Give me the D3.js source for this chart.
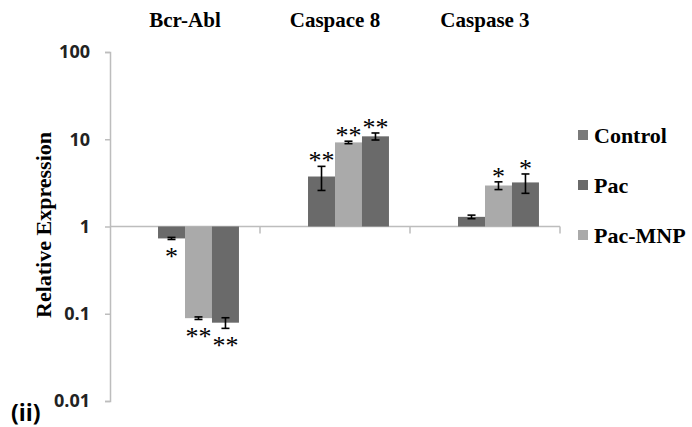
<html>
<script src='https://d3js.org/d3.v7.min.js'></script>
<style>
    body { margin: 0; background: #fff; }
</style>

<body onload='init()'>
    <svg width=692 height=427></svg>
    <script>
        // data
        let categories = ['Bcr-Abl', 'Caspace 8', 'Caspase 3'];
        let series = ['Control', 'Pac', 'Pac-MNP', 'Series 4'];
        let legendSeries = ['Control', 'Pac', 'Pac-MNP'];
        let colors = ['#7a7a7a', '#6a6a6a', '#aaaaaa', '#6a6a6a'];

        let controlVals = [1, 1, 1];
        let controlErr = [0, 0, 0];
        let controlSig = ['', '', ''];
        let pacVals = [0.73, 3.74, 1.29];
        let pacErr = [0.02, 1.15, 0.06];
        let pacSig = ['*', '**', ''];
        let mnpVals = [0.089, 9.2, 2.95];
        let mnpErr = [0.003, 0.3, 0.3];
        let mnpSig = ['**', '**', '*'];
        let s4Vals = [0.079, 10.8, 3.2];
        let s4Err = [0.011, 1.0, 0.8];
        let s4Sig = ['**', '**', '*'];

        let tickValues = [0.01, 0.1, 1, 10, 100];
        let tickLabels = ['0.01', '0.1', '1', '10', '100'];

        const SERIF = "'Liberation Serif', 'Times New Roman', serif";
        const SANS = "'Open Sans', 'Liberation Sans', sans-serif";

        function init() {
            let svg = d3.select('svg');
            let vals = [controlVals, pacVals, mnpVals, s4Vals];
            let errs = [controlErr, pacErr, mnpErr, s4Err];
            let sigs = [controlSig, pacSig, mnpSig, s4Sig];

            let rows = [];
            categories.forEach(function (c, i) {
                series.forEach(function (s, j) {
                    rows.push({ cat: c, ser: s, v: vals[j][i], e: errs[j][i], sig: sigs[j][i], color: colors[j] });
                });
            });

            // Scales
            let x = d3.scaleBand().domain(categories).range([110, 560]);
            let xs = d3.scaleBand().domain(series).range([0, x.bandwidth()]).paddingOuter(0.78);
            let y = d3.scaleLog().domain([0.01, 100]).range([401, 52]);
            let base = y(1);

            // y axis
            let yAxis = d3.axisLeft(y).tickValues(tickValues)
                .tickFormat(function (d, i) { return tickLabels[i]; })
                .tickSize(5).tickPadding(15);
            let gy = svg.append('g').attr('transform', 'translate(110,0)').call(yAxis);
            gy.select('.domain').attr('stroke', '#bdbdbd').attr('stroke-width', 1.5);
            gy.selectAll('.tick line').attr('stroke', '#bdbdbd').attr('stroke-width', 1.5);
            gy.selectAll('.tick text').style('font-family', SANS).style('font-weight', 'bold')
                .style('font-size', '18px').attr('fill', '#222');

            // baseline at 1 with ticks between groups
            svg.append('line').attr('x1', 110).attr('x2', 560).attr('y1', base).attr('y2', base)
                .attr('stroke', '#bdbdbd').attr('stroke-width', 1.5);
            svg.selectAll('.sep').data(categories).enter().append('line')
                .attr('x1', function (d) { return x(d) + x.bandwidth(); })
                .attr('x2', function (d) { return x(d) + x.bandwidth(); })
                .attr('y1', base).attr('y2', base + 7)
                .attr('stroke', '#bdbdbd').attr('stroke-width', 1.5);

            // bars
            svg.append('g').selectAll('rect').data(rows).enter().append('rect')
                .attr('x', function (d) { return x(d.cat) + xs(d.ser); })
                .attr('width', xs.bandwidth())
                .attr('y', function (d) { return Math.min(y(d.v), base); })
                .attr('height', function (d) { return Math.abs(y(d.v) - base); })
                .attr('fill', function (d) { return d.color; });

            // error bars
            let eb = svg.append('g').selectAll('g').data(rows.filter(function (d) { return d.e > 0; }))
                .enter().append('g')
                .attr('transform', function (d) { return `translate(${x(d.cat) + xs(d.ser) + xs.bandwidth() / 2},0)`; })
                .attr('stroke', '#000').attr('stroke-width', 1.6);
            eb.append('line').attr('y1', function (d) { return y(d.v - d.e); }).attr('y2', function (d) { return y(d.v + d.e); });
            eb.append('line').attr('x1', -4).attr('x2', 4).attr('y1', function (d) { return y(d.v - d.e); }).attr('y2', function (d) { return y(d.v - d.e); });
            eb.append('line').attr('x1', -4).attr('x2', 4).attr('y1', function (d) { return y(d.v + d.e); }).attr('y2', function (d) { return y(d.v + d.e); });

            // significance stars
            svg.append('g').selectAll('text').data(rows.filter(function (d) { return d.sig; }))
                .enter().append('text')
                .style('font-family', SERIF).style('font-size', '26px')
                .attr('text-anchor', 'middle')
                .attr('x', function (d) { return x(d.cat) + xs(d.ser) + xs.bandwidth() / 2; })
                .attr('y', function (d) { return d.v >= 1 ? y(d.v + d.e) - 10 + 13 : y(d.v - d.e) + 13 + 13; })
                .text(function (d) { return d.sig; });

            // category titles
            svg.selectAll('.cat').data(categories).enter().append('text')
                .style('font-family', SERIF).style('font-weight', 'bold').style('font-size', '21px')
                .attr('text-anchor', 'middle')
                .attr('x', function (d) { return x(d) + x.bandwidth() / 2; })
                .attr('y', 27)
                .text(function (d) { return d; });

            // y title
            svg.append('text')
                .style('font-family', SERIF).style('font-weight', 'bold').style('font-size', '22px')
                .attr('text-anchor', 'middle')
                .attr('transform', 'translate(51,225) rotate(-90)')
                .text('Relative Expression');

            // panel label
            svg.append('text')
                .style('font-family', SANS).style('font-weight', 'bold').style('font-size', '23px')
                .attr('x', 11).attr('y', 421).text('(ii)');

            // legend
            let lg = svg.append('g').selectAll('g').data(legendSeries).enter().append('g')
                .attr('transform', function (d, i) { return `translate(578,${135 + i * 50})`; });
            lg.append('rect').attr('x', 0).attr('y', -5).attr('width', 10).attr('height', 10)
                .attr('fill', function (d, i) { return colors[i]; });
            lg.append('text')
                .style('font-family', SERIF).style('font-weight', 'bold').style('font-size', '22px')
                .attr('x', 16).attr('y', 8).text(function (d) { return d; });
        }
    </script>
</body>

</html>
